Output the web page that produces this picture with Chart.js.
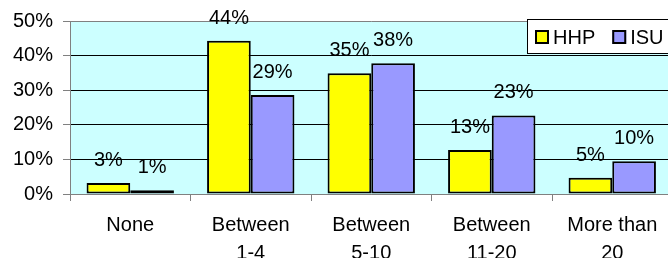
<!DOCTYPE html>
<html>
<head>
<meta charset="utf-8">
<script src="https://cdn.jsdelivr.net/npm/chart.js@4.4.1/dist/chart.umd.min.js"></script>
<style>
  html, body { margin: 0; padding: 0; background: #fff; overflow: hidden; }
  #wrap { width: 668px; height: 258px; overflow: hidden; position: relative; }
  canvas { display: block; }
</style>
</head>
<body>
<div id="wrap"><canvas id="c" width="680" height="258"></canvas></div>
<script>
const categories = [["None"], ["Between", "1-4"], ["Between", "5-10"], ["Between", "11-20"], ["More than", "20"]];
const seriesNames = ["HHP", "ISU"];
const hhpValues = [3.2, 44.3, 34.9, 12.7, 4.7];
const isuValues = [1.1, 28.6, 37.8, 22.7, 9.5];
const yTicks = [0, 10, 20, 30, 40, 50];
const seriesColors = ["#FFFF00", "#9999FF"];

const FONT = '"Liberation Sans", Arial, sans-serif';

const bgPlugin = {
  id: 'plotBg',
  beforeDraw(chart) {
    const { ctx, chartArea: a } = chart;
    ctx.save();
    ctx.fillStyle = '#CCFFFF';
    ctx.fillRect(a.left, a.top, a.right - a.left, a.bottom - a.top);
    ctx.restore();
  }
};

const labelPlugin = {
  id: 'valueLabels',
  afterDatasetsDraw(chart) {
    const { ctx } = chart;
    ctx.save();
    ctx.font = '20px ' + FONT;
    ctx.fillStyle = '#000';
    ctx.textAlign = 'center';
    ctx.textBaseline = 'alphabetic';
    chart.data.datasets.forEach((ds, di) => {
      const meta = chart.getDatasetMeta(di);
      meta.data.forEach((bar, i) => {
        ctx.fillText(Math.round(ds.data[i]) + '%', bar.x, bar.y - 17);
      });
    });
    ctx.restore();
  }
};

const legendPlugin = {
  id: 'boxLegend',
  afterDraw(chart) {
    const { ctx, chartArea: a } = chart;
    const left = Math.round(a.right - 146), top = a.top - 2, h = 34;
    ctx.save();
    ctx.fillStyle = '#fff';
    ctx.fillRect(left, top, 200, h);
    ctx.strokeStyle = '#000';
    ctx.lineWidth = 1;
    ctx.strokeRect(left + 0.5, top + 0.5, 200, h);
    ctx.font = '20px ' + FONT;
    ctx.textBaseline = 'alphabetic';
    ctx.textAlign = 'left';
    let x = left + 8;
    chart.data.datasets.forEach((ds) => {
      ctx.fillStyle = ds.backgroundColor;
      ctx.fillRect(x, top + 11, 14, 14);
      ctx.strokeStyle = '#000';
      ctx.lineWidth = 2;
      ctx.strokeRect(x + 1, top + 12, 12, 12);
      ctx.fillStyle = '#000';
      ctx.fillText(ds.label, x + 18, top + 25.3);
      x += 18 + ctx.measureText(ds.label).width + 17;
    });
    ctx.restore();
  }
};

new Chart(document.getElementById('c'), {
  type: 'bar',
  data: {
    labels: categories,
    datasets: [
      { label: seriesNames[0], data: hhpValues, backgroundColor: seriesColors[0], borderColor: '#000', borderWidth: 2, borderSkipped: false },
      { label: seriesNames[1], data: isuValues, backgroundColor: seriesColors[1], borderColor: '#000', borderWidth: 2, borderSkipped: false }
    ]
  },
  options: {
    responsive: false,
    animation: false,
    devicePixelRatio: 1,
    layout: { padding: { top: 21, left: 0, right: 7.5, bottom: 0 } },
    datasets: { bar: { categoryPercentage: 0.725, barPercentage: 1 } },
    plugins: { legend: { display: false }, tooltip: { enabled: false } },
    scales: {
      x: {
        grid: { offset: true, drawOnChartArea: false, drawTicks: true, tickLength: 7, color: '#808080' },
        border: { color: '#808080', width: 1 },
        ticks: { font: { family: FONT, size: 20, lineHeight: 1.4 }, color: '#000', padding: 10, maxRotation: 0, autoSkip: false },
        afterFit(s) { s.height = 64; s.paddingLeft = 0; s.paddingRight = 0; }
      },
      y: {
        min: 0, max: 50,
        afterBuildTicks(s) { s.ticks = yTicks.map(v => ({ value: v })); },
        grid: {
          color: (c) => (c.tick && (c.tick.value === 50 || c.tick.value === 0)) ? '#808080' : '#000',
          tickLength: 7, drawTicks: true,
          tickColor: '#808080'
        },
        border: { color: '#808080', width: 1 },
        ticks: { font: { family: FONT, size: 20 }, color: '#000', padding: 10, callback: (v) => v + '%' },
        afterFit(s) { s.width = 70; s.paddingTop = 0; s.paddingBottom = 0; }
      }
    }
  },
  plugins: [bgPlugin, labelPlugin, legendPlugin]
});
</script>
</body>
</html>
